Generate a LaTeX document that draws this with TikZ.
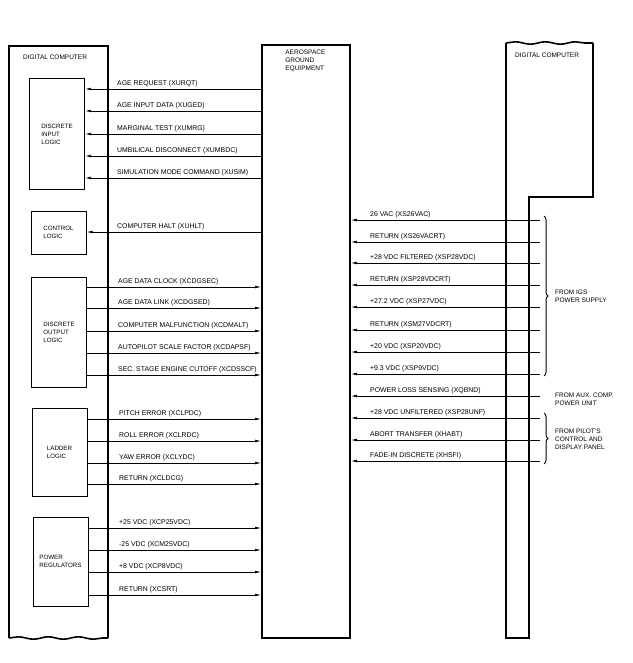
\documentclass[tikz,border=0pt]{standalone}
\usepackage{fontspec}
\setmainfont{Liberation Sans}
\usetikzlibrary{calc, positioning, arrows.meta, decorations.pathreplacing, decorations.pathmorphing}

\begin{document}
\begin{tikzpicture}[x=1pt, y=-1pt,
  outer/.style={line width=1.6pt},
  unit/.style={draw, line width=1pt, minimum width=55pt, inner sep=0pt, align=left, font=\fontsize{6.2}{8}\selectfont},
  sig/.style={line width=0.7pt},
  tip/.style={-{Latex[length=6pt,width=2.6pt]}},
  lab/.style={anchor=south west, inner sep=0pt, font=\fontsize{6.9}{8}\selectfont},
  side/.style={anchor=west, inner sep=0pt, align=left, font=\fontsize{6.5}{8}\selectfont},
  wavy/.style={decorate, decoration={snake, segment length=30pt, amplitude=1.2pt}}]
  \useasboundingbox (0,0) rectangle (632,663);
  % left computer
  \draw[outer] (9,638) -- (9,46) -- (108,46) -- (108,638);
  \draw[outer, wavy] (9,638) -- (108,638);
  \node[side] (dcl) at (23,57) {DIGITAL COMPUTER};
  \node[unit, minimum height=110pt] (dil) at (57,134) {DISCRETE\\INPUT\\LOGIC};
  \node[unit, minimum height=43pt] (ctl) at (58.5,232.5) {CONTROL\\LOGIC};
  \node[unit, minimum height=110pt] (dol) at (59,332) {DISCRETE\\OUTPUT\\LOGIC};
  \node[unit, minimum height=88pt] (lad) at (59.5,452) {LADDER\\LOGIC};
  \node[unit, minimum height=89pt] (pwr) at (60.5,561.5) {POWER\\REGULATORS};
  % AGE
  \node[draw, outer, minimum width=88pt, minimum height=593pt, inner sep=0pt] (age) at (306,341.5) {};
  \node[anchor=north west, inner sep=0pt, align=left, font=\fontsize{6.5}{8}\selectfont] (agel) at ($(age.north west)+(24,6)$) {AEROSPACE\\GROUND\\EQUIPMENT};
  % right computer
  \draw[outer] (506,43) -- (506,638) -- (529,638) -- (529,197) -- (593,197) -- (593,43);
  \draw[outer, wavy] (506,43) -- (593,43);
  \node[side] (dcr) at (515,55) {DIGITAL COMPUTER};
  \coordinate (src) at (540,0);
  % inputs to the computer
  \foreach \y/\txt in {89/{AGE REQUEST (XURQT)}, 111/{AGE INPUT DATA (XUGED)},
      134/{MARGINAL TEST (XUMRG)}, 156/{UMBILICAL DISCONNECT (XUMBDC)},
      178/{SIMULATION MODE COMMAND (XUSIM)}} {
    \draw[sig, tip] (age.west |- 0,\y) -- (dil.east |- 0,\y);
    \node[lab] (in\y) at (117,\y-2) {\txt};
  }
  \draw[sig, tip] (age.west |- 0,232) -- (ctl.east |- 0,232);
  \node[lab] (halt) at (117,230) {COMPUTER HALT (XUHLT)};
  % outputs
  \foreach \y/\txt in {287/{AGE DATA CLOCK (XCDGSEC)}, 308/{AGE DATA LINK (XCDGSED)},
      331/{COMPUTER MALFUNCTION (XCDMALT)}, 353/{AUTOPILOT SCALE FACTOR (XCDAPSF)},
      375/{SEC. STAGE ENGINE CUTOFF (XCDSSCF)}} {
    \draw[sig, tip] (dol.east |- 0,\y) -- (age.west |- 0,\y);
    \node[lab] (out\y) at (118,\y-2) {\txt};
  }
  \foreach \y/\txt in {419/{PITCH ERROR (XCLPDC)}, 441/{ROLL ERROR (XCLRDC)},
      463/{YAW ERROR (XCLYDC)}, 484/{RETURN (XCLDCG)}} {
    \draw[sig, tip] (lad.east |- 0,\y) -- (age.west |- 0,\y);
    \node[lab] (out\y) at (119,\y-2) {\txt};
  }
  \foreach \y/\txt in {528/{+25 VDC (XCP25VDC)}, 550/{-25 VDC (XCM25VDC)},
      572/{+8 VDC (XCP8VDC)}, 595/{RETURN (XCSRT)}} {
    \draw[sig, tip] (pwr.east |- 0,\y) -- (age.west |- 0,\y);
    \node[lab] (out\y) at (119,\y-2) {\txt};
  }
  % supplies
  \foreach \y/\txt in {220/{26 VAC (XS26VAC)}, 242/{RETURN (XS26VACRT)},
      263/{+28 VDC FILTERED (XSP28VDC)}, 285/{RETURN (XSP28VDCRT)},
      307/{+27.2 VDC (XSP27VDC)}, 330/{RETURN (XSM27VDCRT)},
      352/{+20 VDC (XSP20VDC)}, 374/{+9.3 VDC (XSP9VDC)},
      396/{POWER LOSS SENSING (XQBND)}, 418/{+28 VDC UNFILTERED (XSP28UNF)},
      440/{ABORT TRANSFER (XHABT)}, 461/{FADE-IN DISCRETE (XHSFI)}} {
    \draw[sig, tip] (src |- 0,\y) -- (age.east |- 0,\y);
    \node[lab] (sup\y) at (370,\y-2) {\txt};
  }
  \draw[line width=1pt, decorate, decoration={brace, amplitude=4pt}] (544,216) -- (544,376);
  \node[side] (igs) at (555,296) {FROM IGS\\POWER SUPPLY};
  \node[side] (aux) at (555,399) {FROM AUX. COMP.\\POWER UNIT};
  \draw[line width=1pt, decorate, decoration={brace, amplitude=4pt}] (544,413) -- (544,464);
  \node[side] (pilot) at (555,439) {FROM PILOT'S\\CONTROL AND\\DISPLAY PANEL};
\end{tikzpicture}
\end{document}
